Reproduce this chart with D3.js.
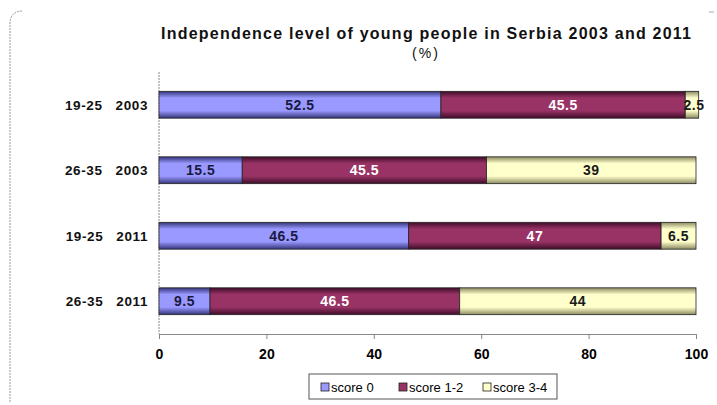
<!DOCTYPE html>
<html><head><meta charset="utf-8">
<script src="https://cdn.jsdelivr.net/npm/d3@7"></script>
<style>body{margin:0;background:#fff;} text{font-family:"Liberation Sans",Arial,sans-serif;}</style>
</head><body>
<svg id="c" width="717" height="405"></svg>
<script>
const categories = ["19-25   2003", "26-35   2003", "19-25   2011", "26-35   2011"];
const seriesNames = ["score 0", "score 1-2", "score 3-4"];
const score0 = [52.5, 15.5, 46.5, 9.5];
const score12 = [45.5, 45.5, 47, 46.5];
const score34 = [2.5, 39, 6.5, 44];
const xTicks = [0, 20, 40, 60, 80, 100];
const colors = ["#9999ff", "#993366", "#ffffcc"];
const darks = ["#34347a", "#3f0c28", "#8a8a60"];
const labelColors = ["#1a1a40", "#ffffff", "#1a1a1a"];

const svg = d3.select("#c");
const m = {left: 159, right: 696, top: 72, bottom: 334};

// frame
svg.append("path")
  .attr("d", `M10,402 L10,24 Q10,11 23,11`)
  .attr("fill", "none").attr("stroke", "#999").attr("stroke-width", 1).attr("stroke-dasharray", "2,1");
svg.append("line").attr("x1", 709).attr("x2", 714).attr("y1", 12).attr("y2", 12).attr("stroke", "#aaa");

// gradients
const defs = svg.append("defs");
colors.forEach((c, i) => {
  const g = defs.append("linearGradient").attr("id", "g" + i).attr("x1", 0).attr("x2", 0).attr("y1", 0).attr("y2", 1);
  g.append("stop").attr("offset", "0%").attr("stop-color", darks[i]);
  g.append("stop").attr("offset", "25%").attr("stop-color", c);
  g.append("stop").attr("offset", "72%").attr("stop-color", c);
  g.append("stop").attr("offset", "100%").attr("stop-color", darks[i]);
});

const x = d3.scaleLinear().domain([0, 100]).range([m.left, m.right]);
const y = d3.scaleBand().domain(categories).range([m.top, m.bottom]).paddingInner(0.59).paddingOuter(0.295);

// title
svg.append("text").attr("x", 426).attr("y", 39).attr("text-anchor", "middle")
  .attr("font-size", 16).attr("font-weight", "bold").attr("fill", "#111")
  .attr("textLength", 530).attr("lengthAdjust", "spacing")
  .text("Independence level of young people in Serbia 2003 and 2011");
svg.append("text").attr("x", 426).attr("y", 58).attr("text-anchor", "middle")
  .attr("font-size", 14).attr("fill", "#111").attr("letter-spacing", 2).text("(%)");

// axes
svg.append("line").attr("x1", m.left).attr("x2", m.left).attr("y1", m.top).attr("y2", m.bottom)
  .attr("stroke", "#888").attr("stroke-dasharray", "2,1");
const xa = svg.append("g").attr("transform", `translate(0,${m.bottom})`)
  .call(d3.axisBottom(x).tickValues(xTicks).tickSize(5).tickPadding(10).tickSizeOuter(0));
xa.select(".domain").attr("stroke", "#888");
xa.selectAll(".tick line").attr("stroke", "#888");
xa.selectAll("text").attr("font-size", 14).attr("font-weight", "bold").attr("fill", "#000")
  .style("font-family", "'Liberation Sans Narrow','Liberation Sans',Arial");

// category labels
svg.append("g").selectAll("text").data(categories).join("text")
  .attr("x", 148).attr("y", d => y(d) + y.bandwidth() / 2 + 5)
  .attr("text-anchor", "end").attr("font-size", 13.5).attr("font-weight", "bold").attr("fill", "#111")
  .attr("letter-spacing", 0.6)
  .attr("xml:space", "preserve").style("white-space", "pre")
  .text(d => d);

// stacked data
const rows = categories.map((c, i) => ({cat: c, s0: score0[i], s1: score12[i], s2: score34[i]}));
const stack = d3.stack().keys(["s0", "s1", "s2"]);
const layers = stack(rows);

layers.forEach((layer, li) => {
  const g = svg.append("g");
  g.selectAll("rect").data(layer).join("rect")
    .attr("x", d => x(d[0])).attr("width", d => x(d[1]) - x(d[0]))
    .attr("y", d => y(d.data.cat)).attr("height", y.bandwidth())
    .attr("fill", `url(#g${li})`).attr("stroke", "#222").attr("stroke-width", 0.8);
  g.selectAll("text").data(layer).join("text")
    .attr("x", d => (x(d[0]) + x(d[1])) / 2 + (d[1] - d[0] < 4 ? 2 : 0))
    .attr("y", d => y(d.data.cat) + y.bandwidth() / 2 + 5)
    .attr("text-anchor", "middle").attr("font-size", 14).attr("font-weight", "bold")
    .attr("letter-spacing", 0.5)
    .attr("fill", labelColors[li])
    .text(d => d[1] - d[0]);
});

// legend
const lg = svg.append("g").attr("transform", "translate(309,374)");
lg.append("rect").attr("width", 248).attr("height", 25).attr("fill", "#fff").attr("stroke", "#555");
const lx = [12, 90, 174];
seriesNames.forEach((n, i) => {
  lg.append("rect").attr("x", lx[i]).attr("y", 9).attr("width", 8).attr("height", 8)
    .attr("fill", colors[i]).attr("stroke", "#222").attr("stroke-width", 0.8);
  lg.append("text").attr("x", lx[i] + 10).attr("y", 18).attr("font-size", 13).attr("fill", "#000")
    .style("font-family", "'Liberation Sans Narrow','Liberation Sans',Arial").text(n);
});
</script>
</body></html>
